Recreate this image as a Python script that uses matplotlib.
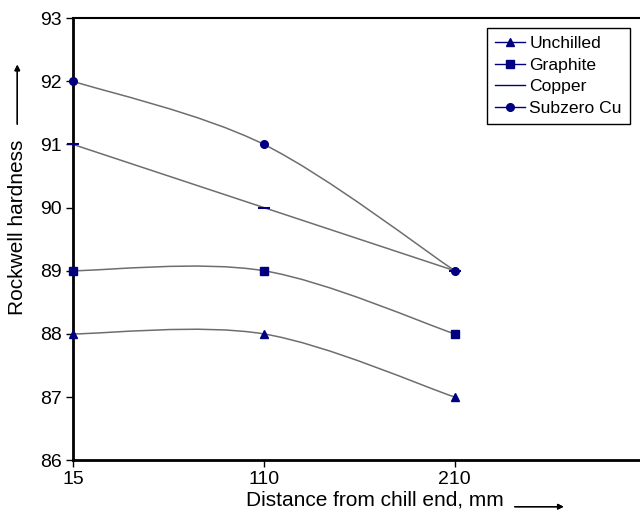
import matplotlib
matplotlib.use("Agg")
import matplotlib.pyplot as plt
from matplotlib.path import Path
from matplotlib.patches import PathPatch
from matplotlib.lines import Line2D

plt.rcParams['font.family'] = ['Liberation Sans', 'DejaVu Sans']

distance = ["15", "110", "210"]
unchilled = [88, 88, 87]
graphite = [89, 89, 88]
copper = [91, 90, 89]
subzero = [92, 91, 89]

series = [("Unchilled", unchilled, "^"),
          ("Graphite", graphite, "s"),
          ("Copper", copper, "_"),
          ("Subzero Cu", subzero, "o")]

line_col = "#6e6e6e"
mark_col = "#000080"


def smooth_path(xs, ys):
    # excel style smoothed line: cubic bezier segments
    pts = list(zip(xs, ys))
    n = len(pts)
    verts = [pts[0]]
    codes = [Path.MOVETO]
    for i in range(n - 1):
        p0 = pts[i - 1] if i > 0 else pts[i]
        p1 = pts[i]
        p2 = pts[i + 1]
        p3 = pts[i + 2] if i + 2 < n else pts[i + 1]
        c1 = (p1[0] + (p2[0] - p0[0]) / 6, p1[1] + (p2[1] - p0[1]) / 6)
        c2 = (p2[0] - (p3[0] - p1[0]) / 6, p2[1] - (p3[1] - p1[1]) / 6)
        verts += [c1, c2, p2]
        codes += [Path.CURVE4] * 3
    return Path(verts, codes)


fig = plt.figure(figsize=(6.4, 5.16), dpi=100)
ax = fig.add_axes([0.114, 0.108, 0.886, 0.857])

xpos = list(range(len(distance)))
handles = []
for name, vals, m in series:
    ax.add_patch(PathPatch(smooth_path(xpos, vals), facecolor="none",
                           edgecolor=line_col, lw=1.1, zorder=2))
    ax.plot(xpos, vals, linestyle="none", marker=m, color=mark_col,
            markersize=5.5 if m != "_" else 8, mew=1.5 if m == "_" else 1,
            zorder=3, clip_on=False)
    handles.append(Line2D([], [], color=mark_col, lw=1, marker=m,
                          markersize=5.5 if m != "_" else 0))

ax.set_xlim(0, 2.97)
ax.set_ylim(86, 93)
ax.set_xticks(xpos)
ax.set_xticklabels(distance)
ax.set_yticks(range(86, 94))
ax.tick_params(direction="out", length=5, width=1, labelsize=14, pad=3)

ax.spines["right"].set_visible(False)
ax.spines["left"].set_linewidth(2)
ax.spines["bottom"].set_linewidth(2)
ax.spines["top"].set_linewidth(1.5)

ax.legend(handles, [s[0] for s in series], loc="upper right",
          bbox_to_anchor=(0.982, 0.977), borderaxespad=0, fontsize=12.6,
          frameon=True, fancybox=False, edgecolor="black", framealpha=1,
          handlelength=1.7, handletextpad=0.25, labelspacing=0.36,
          borderpad=0.45)

fig.text(0.027, 0.56, "Rockwell hardness", rotation=90, fontsize=15,
         ha="center", va="center")
fig.text(0.586, 0.031, "Distance from chill end, mm", fontsize=15,
         ha="center", va="center")
# arrows next to the axis titles
fig.add_artist(plt.annotate("", xy=(0.027, 0.88), xytext=(0.027, 0.754),
                            xycoords="figure fraction",
                            arrowprops=dict(arrowstyle="-|>", lw=1, color="black",
                                            mutation_scale=8)))
fig.add_artist(plt.annotate("", xy=(0.885, 0.018), xytext=(0.80, 0.018),
                            xycoords="figure fraction",
                            arrowprops=dict(arrowstyle="-|>", lw=1, color="black",
                                            mutation_scale=8)))

fig.savefig("out.png", dpi=100)
